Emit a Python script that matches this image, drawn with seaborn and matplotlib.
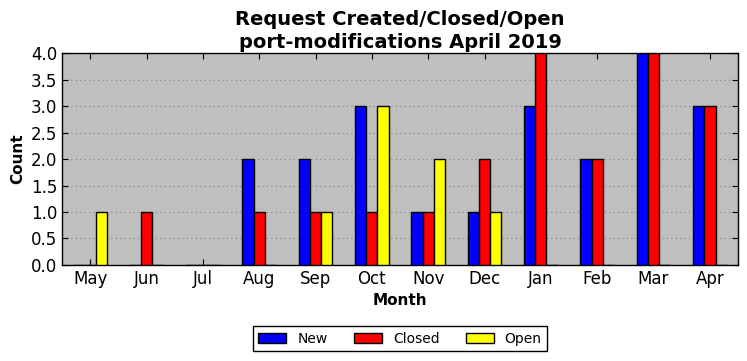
import seaborn as sns
import pandas as pd
import matplotlib.pyplot as plt
from matplotlib.ticker import FormatStrFormatter, MultipleLocator

months = ['May', 'Jun', 'Jul', 'Aug', 'Sep', 'Oct', 'Nov', 'Dec', 'Jan', 'Feb', 'Mar', 'Apr']
new = [0, 0, 0, 2, 2, 3, 1, 1, 3, 2, 4, 3]
closed = [0, 1, 0, 1, 1, 1, 1, 2, 4, 2, 4, 3]
opened = [1, 0, 0, 0, 1, 3, 2, 1, 0, 0, 0, 0]
types = ['New', 'Closed', 'Open']
colors = ['blue', 'red', 'yellow']


def build_frame():
    '''Long-form frame for seaborn'''
    rows = []
    for name, vals in zip(types, [new, closed, opened]):
        for m, v in zip(months, vals):
            rows.append({'Month': m, 'Count': v, 'Type': name})
    return pd.DataFrame(rows)


def make_plot(df):
    sns.set_style('white')
    plt.rcParams['font.family'] = ['DejaVu Sans']
    for k in ['text.color', 'axes.labelcolor', 'xtick.color', 'ytick.color']:
        plt.rcParams[k] = 'black'

    fig = plt.figure(figsize=(7.47, 3.61), dpi=100)
    ax = fig.add_axes([0.083, 0.266, 0.905, 0.587])
    ax.set_facecolor('#bfbfbf')

    sns.barplot(data=df, x='Month', y='Count', hue='Type', order=months, hue_order=types,
                palette=colors, width=0.6, gap=0, saturation=1, edgecolor='black',
                linewidth=1, errorbar=None, ax=ax, zorder=3)

    ax.set_ylim(0, 4.0)
    ax.set_xlim(-0.5, len(months) - 0.5)
    ax.yaxis.set_major_locator(MultipleLocator(0.5))
    ax.yaxis.set_major_formatter(FormatStrFormatter('%.1f'))
    ax.yaxis.grid(True, linestyle=(0, (1, 3)), color='0.5', linewidth=0.8, zorder=0)
    ax.xaxis.grid(False)
    ax.set_axisbelow(True)

    ax.tick_params(axis='both', which='major', labelsize=12, direction='in', length=4,
                   top=True, right=True, bottom=True, left=True, color='black')
    for s in ax.spines.values():
        s.set_color('black')
        s.set_linewidth(1)

    ax.set_xlabel('Month', fontsize=11, fontweight='bold')
    ax.set_ylabel('Count', fontsize=11, fontweight='bold')
    ax.set_title('Request Created/Closed/Open\nport-modifications April 2019',
                 fontsize=14, fontweight='bold', linespacing=1.25, pad=4)

    sns.move_legend(ax, 'upper center', bbox_to_anchor=(0.5, -0.288), ncol=3, title=None,
                    frameon=True, fancybox=False, edgecolor='black', framealpha=1,
                    fontsize=10, borderaxespad=0, handlelength=2.0, columnspacing=1.9)
    leg = ax.get_legend()
    leg.get_frame().set_linewidth(1)

    fig.savefig('out.png', dpi=100)


def main():
    df = build_frame()
    make_plot(df)


if __name__ == '__main__':
    main()
